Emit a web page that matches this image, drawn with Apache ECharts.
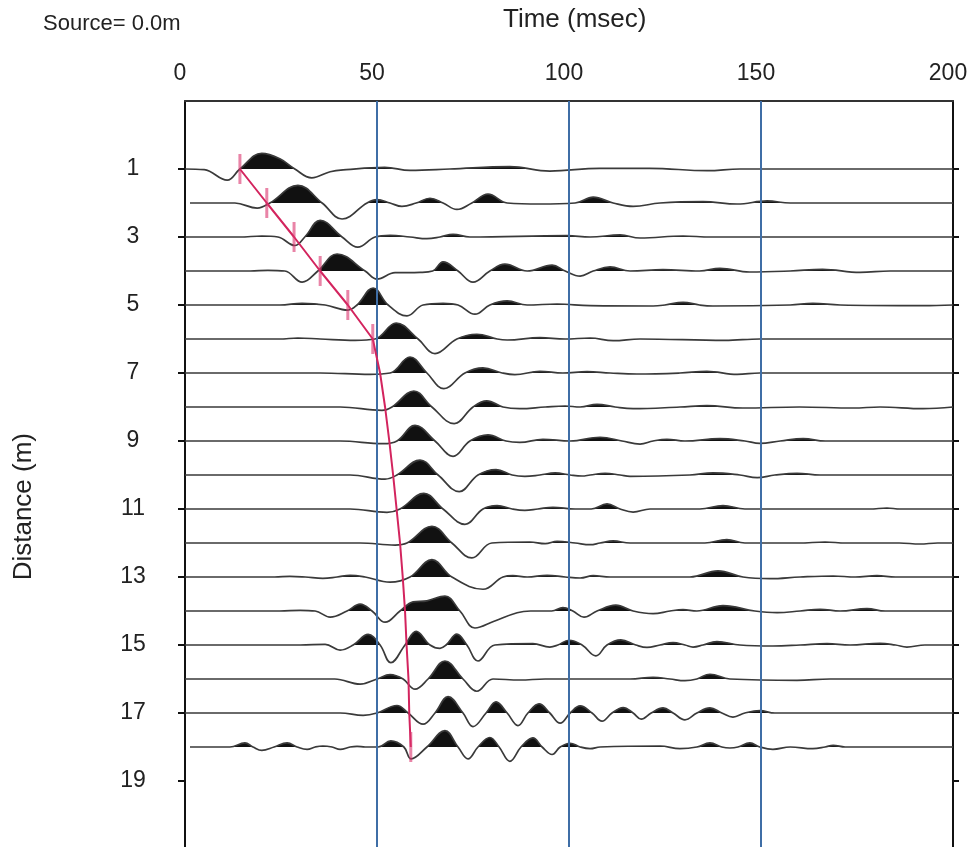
<!DOCTYPE html>
<html>
<head>
<meta charset="utf-8">
<script src="https://cdn.jsdelivr.net/npm/echarts@6/dist/echarts.min.js"></script>
<style>
  html, body { margin: 0; padding: 0; background: #fff; }
  #main { width: 972px; height: 847px; }
</style>
</head>
<body>
<div id="main"></div>
<script type="text/javascript">
// wiggle traces, knots: [time (ms), amplitude in trace spacings, + = filled lobe]
var tr1 = [[0,0],[5,-0.02],[11,-0.33],[14.3,0],[20,0.46],[24.7,0.3],[28.6,0],[33,-0.26],[37.8,-0.08],[42,-0.02],[52,0.05],[58.6,-0.04],[69,0],[84.6,0.07],[95,-0.06],[108,0.02],[121,0.02],[136,-0.05],[144.5,0],[200,0]];
var tr2 = [[1.3,0],[13,0],[18.8,-0.15],[22.1,0],[29.4,0.52],[35.7,0],[40.9,-0.47],[47.4,0],[50,0.1],[53.4,0],[56.5,-0.1],[60.2,0],[63.8,0.14],[67.2,0],[70.8,-0.19],[74.7,0],[78.9,0.26],[83.9,0],[92.4,-0.03],[101.6,0],[106.3,0.17],[111.5,0],[116.7,-0.1],[123.7,0],[134.9,0.04],[143.8,-0.03],[151.6,0.06],[157.6,0],[200,0]];
var tr3 = [[0,0],[14.3,0],[20,0.03],[24.2,0],[28.6,-0.25],[31.2,0],[35.2,0.49],[40.9,0],[45,-0.3],[49.5,0],[53.4,0.05],[58.6,0],[63,-0.05],[66.4,0],[69.8,0.08],[74.2,0],[99.5,0.04],[105.5,0],[113.3,0.06],[118.5,-0.03],[129.7,0.03],[136.7,0],[200,0]];
var tr4 = [[0,0],[17,0],[21.6,0.02],[26,0],[30.5,-0.33],[34.6,0],[39.6,0.5],[46.9,0],[50,-0.24],[54.7,-0.05],[61.2,-0.04],[64.5,0],[67.2,0.27],[71.1,0],[75,-0.33],[79.4,0],[83.3,0.2],[89.1,0],[95.6,0.17],[99,0],[102.9,-0.15],[106.3,0],[110.7,0.12],[115.9,0],[124.5,0.04],[134,0],[139.3,0.08],[147,-0.03],[157.6,0],[166,0.05],[175.8,-0.04],[183.6,0],[200,0]];
var tr5 = [[0,0],[24.7,0],[30.5,0.05],[36.5,0],[42.4,-0.15],[44.8,0],[49,0.5],[52.9,0],[57.8,-0.32],[62,0],[67.2,0.05],[71.1,0],[75.5,-0.27],[79.4,0],[83.9,0.12],[89.1,0],[96.9,0.03],[105.5,-0.02],[121.9,-0.03],[125,0],[129.7,0.08],[134,0],[137.5,-0.03],[157.6,0],[163.5,0.05],[170.6,0],[192.2,-0.02],[200,0]];
var tr6 = [[0,0],[24.7,0],[29.4,0.03],[35.2,0],[44.3,-0.04],[49.5,0],[55,0.47],[60.7,0],[65.1,-0.43],[70.8,0],[76,0.14],[81.3,0],[83.9,-0.03],[92.4,0.04],[99,0],[105.5,0.03],[111.5,-0.05],[118.5,0],[140.6,-0.04],[149.7,0],[200,0]];
var tr7 = [[0,0],[35.2,0],[48.2,-0.04],[53.4,0],[58.6,0.47],[63,0],[67.4,-0.46],[72.9,0],[77.6,0.15],[82.6,0],[85.9,-0.05],[92.4,0.05],[98.4,0],[104.7,0.04],[110.7,0],[117.7,-0.03],[128.9,0],[135.9,0.05],[143.8,-0.04],[149.7,0],[200,0]];
var tr8 = [[0,0],[40.4,0],[51.3,-0.1],[53.9,0],[59.6,0.47],[64.3,0],[70.1,-0.49],[75,0],[78.6,0.18],[82.8,0],[87.2,-0.05],[93.8,0],[99,0.03],[102.9,0],[107.3,0.08],[112,0],[116.7,-0.05],[128.9,0],[135.9,0.04],[145.3,-0.03],[160,0],[174,-0.03],[181,0],[192.2,-0.05],[200,0]];
var tr9 = [[0,0],[40.4,0],[51.6,-0.08],[55.2,0],[59.9,0.46],[65.1,0],[69.8,-0.45],[74.2,0],[78.9,0.18],[83.6,0],[87.2,-0.04],[93.2,0.05],[100.3,0],[108.1,0.11],[113.8,0],[118.5,-0.09],[121.9,0],[125.5,0.05],[130.2,0],[139.3,0.07],[145.8,0],[149.7,-0.07],[155,0],[161,0.07],[166.7,0],[200,0]];
var tr10 = [[0,0],[43,0],[52.1,-0.12],[55.2,0],[61.2,0.44],[65.9,0],[71.4,-0.49],[76.3,0],[81,0.16],[85.2,0],[88.5,-0.04],[92.4,0],[96.4,0.06],[100.3,0],[103.4,-0.03],[105.5,0],[109.4,0.05],[113.3,0],[115.9,-0.04],[131.5,0],[137.5,0.06],[144.5,0],[149,-0.08],[153.6,0],[159.4,0.05],[165.4,0],[200,0]];
var tr11 = [[0,0],[43,0],[52.6,-0.1],[56,0],[62.2,0.46],[67.2,0],[72.9,-0.45],[77.6,0],[81.3,0.1],[85.2,0],[88.5,-0.04],[91.9,0],[95.8,0.05],[101.6,0],[105.8,0],[109.9,0.15],[113.3,0],[116.7,-0.09],[121.1,0],[134.1,0],[140.1,0.1],[145.8,0],[178.4,0],[182.8,0.03],[186.2,0],[200,0]];
var tr12 = [[0,0],[45.6,0],[54.7,-0.06],[57.8,0],[64.3,0.49],[69.5,0],[74.7,-0.44],[79.9,0],[89.8,0.03],[93.8,-0.02],[96.9,0.05],[101.6,0],[105.5,-0.05],[108.1,0],[111.5,0.06],[115.9,0],[135.4,0],[141.1,0.1],[145.8,0],[160,0],[166.7,0.03],[172,0],[186,0],[191.4,-0.03],[196,0],[200,0]];
var tr13 = [[0,0],[23.4,0],[27.3,0.02],[31.3,0],[35.9,-0.04],[39.6,0],[43,0.05],[46.9,0],[53.4,-0.15],[58.6,0],[64.3,0.51],[69.5,0],[77.6,-0.36],[82.8,0],[85.4,0.04],[89.1,0],[94.3,0.05],[99,0],[102.9,-0.03],[106.3,0.04],[110.7,0],[131.5,0],[138.8,0.18],[145.3,0],[152.3,-0.05],[160.2,0],[168.8,0.03],[174.5,0],[180.2,0.04],[185,0],[200,0]];
var tr14 = [[0,0],[24.7,0],[30,0.02],[33.9,0],[37.8,-0.18],[42.2,0],[45.6,0.2],[48.7,0],[52.1,-0.33],[56,0],[59.4,0.27],[63,0.3],[67.7,0.44],[71.6,0],[75.5,-0.5],[80.5,-0.3],[86.5,-0.05],[90,0],[95.5,0],[98.4,0.1],[101,0],[103.9,-0.18],[107.3,0],[112.2,0.17],[116.7,0],[121.9,-0.08],[126.3,0],[129.7,0.04],[133.3,0],[140.1,0.16],[148.4,0],[154.2,-0.05],[160.2,0],[165.4,0.05],[170.6,0],[177.6,0.07],[182.3,0],[200,0]];
var tr15 = [[0,0],[30,0],[36.5,0.02],[40.4,-0.15],[43.8,0],[47.7,0.31],[50.8,0],[53.6,-0.52],[57.3,0],[60.2,0.4],[63.8,0],[66.4,-0.1],[68,0],[70.8,0.32],[73.4,0],[76.3,-0.47],[80.7,0],[90.6,0.04],[95,-0.06],[97.1,0],[100,0.14],[103.4,0],[107,-0.32],[109.9,0],[113.5,0.15],[117.4,0],[120.3,-0.07],[123.7,0],[127.1,0.07],[130.2,0],[132.3,-0.06],[134.9,0],[138.5,0.1],[144.5,0],[153.1,-0.03],[160.2,0],[167.2,0.04],[173.2,0],[181,0.05],[185,0],[188,-0.06],[192.7,0],[200,0]];
var tr16 = [[0,0],[39,0],[45.6,-0.15],[50,0],[53.4,0.13],[56.8,0],[59.9,-0.3],[63.3,0],[67.7,0.53],[72.4,0],[76,-0.36],[80.2,0],[87.2,-0.03],[93.8,0],[115.9,0],[121.9,0.05],[126.3,0],[130.2,-0.05],[133.3,0],[136.7,0.14],[141.9,0],[159.4,-0.04],[168,0],[200,0]];
var tr17 = [[0,0],[40.4,0],[46.4,-0.07],[50,0],[55.2,0.22],[58.1,0],[62,-0.33],[65.1,0],[68.5,0.48],[72.4,0],[75,-0.4],[78.4,0],[81,0.33],[83.9,0],[86.7,-0.37],[89.3,0],[92.2,0.27],[95,0],[97.7,-0.3],[100.3,0],[102.9,0.21],[106,0],[108.6,-0.24],[111.2,0],[114.1,0.16],[116.7,0],[118.8,-0.18],[121.4,0],[124.5,0.15],[127.1,0],[130.2,-0.2],[133.3,0],[136.7,0.15],[139.8,0],[142.7,-0.12],[145.8,0],[149.7,0.07],[153.6,0],[200,0]];
var tr18 = [[1.3,0],[11.7,0],[15.6,0.12],[17.7,0],[20,-0.1],[23.2,0],[26.6,0.12],[29.2,0],[31.8,-0.07],[33.9,0],[35.9,0.03],[38.3,0],[40.4,-0.07],[43,0],[44.8,0.02],[46.9,0],[50.3,0],[53.6,0.18],[57,0],[58.9,-0.35],[63,0],[67.7,0.48],[71.1,0],[73.7,-0.35],[76.3,0],[79.4,0.28],[81.8,0],[84.6,-0.42],[87.5,0],[90.6,0.27],[93,0],[95.6,-0.22],[97.7,0],[100.3,0.11],[102.9,0],[105.5,-0.05],[108.1,0],[123.7,0.03],[128.9,-0.05],[133.3,0],[136.7,0.12],[139.8,0],[141.9,-0.03],[144,0],[147.1,0.12],[149.7,0],[153.1,-0.07],[157.6,0],[163.5,-0.05],[166.7,0],[168.8,0.05],[171.9,0],[200,0]];
var traces = [tr1, tr2, tr3, tr4, tr5, tr6, tr7, tr8, tr9, tr10, tr11, tr12, tr13, tr14, tr15, tr16, tr17, tr18];

// first-break picks (red)
var pickTimes = [14.3, 21.3, 28.4, 35.2, 42.4, 48.9, 50.8, 52.1, 53.2, 54.2, 55.1, 56.0, 56.7, 57.3, 57.7, 58.2, 58.4, 58.8];
var pickDist = [1, 2, 3, 4, 5, 6, 7, 8, 9, 10, 11, 12, 13, 14, 15, 16, 17, 18];
var tickedPicks = [1, 2, 3, 4, 5, 6, 18];

var timeTicks = [0, 50, 100, 150, 200];
var guideTimes = [50, 100, 150];
var distTicks = [1, 3, 5, 7, 9, 11, 13, 15, 17, 19];

var FONT = 'Liberation Sans';
var myChart = echarts.init(document.getElementById('main'));

var series = [];
var visualMaps = [];
traces.forEach(function (knots, i) {
    var d = i + 1;
    var pts = knots.map(function (k) { return [k[0], d - k[1]]; });
    // filled positive lobes: area to the trace baseline, coloured only above it
    visualMaps.push({
        type: 'piecewise', show: false, dimension: 1, seriesIndex: series.length,
        pieces: [{ gt: d - 5, lt: d, color: '#111' }, { gte: d, lt: d + 5, color: 'rgba(255,255,255,0)' }],
        outOfRange: { color: 'rgba(255,255,255,0)' }
    });
    series.push({
        type: 'line', data: pts, smooth: 0.4, symbol: 'none', silent: true, z: 2,
        lineStyle: { width: 0 },
        areaStyle: { origin: d, opacity: 1 }
    });
    series.push({
        type: 'line', data: pts, smooth: 0.4, symbol: 'none', silent: true, z: 3,
        lineStyle: { color: '#3a3a3a', width: 1.7 }
    });
});

// blue time guides
series.push({
    type: 'line', silent: true, z: 5, symbol: 'none',
    data: [[0, -1]], lineStyle: { width: 0 },
    markLine: {
        silent: true, symbol: 'none', label: { show: false },
        lineStyle: { color: '#3f6ea6', width: 2, type: 'solid' },
        data: guideTimes.map(function (t) { return { xAxis: t }; })
    }
});

// pick line
series.push({
    type: 'line', silent: true, z: 10, symbol: 'none',
    data: pickTimes.map(function (t, i) { return [t, pickDist[i]]; }),
    lineStyle: { color: '#d3245e', width: 2 }
});
series.push({
    type: 'scatter', silent: true, z: 10, symbol: 'rect', symbolSize: [3, 30],
    itemStyle: { color: 'rgba(218,50,108,0.75)' },
    data: tickedPicks.map(function (d) { return [pickTimes[d - 1], d]; })
});

var option = {
    animation: false,
    title: {
        text: 'Source= 0.0m', left: 38, top: 8,
        textStyle: { fontFamily: FONT, fontSize: 22, fontWeight: 'normal', color: '#222' }
    },
    graphic: [{
        type: 'text', left: 503, top: 7,
        style: { text: 'Time (msec)', fontFamily: FONT, fontSize: 26, fill: '#222' }
    }, {
        type: 'text', left: 11, top: 433, rotation: Math.PI / 2, originX: 0, originY: 0,
        style: { text: 'Distance (m)', fontFamily: FONT, fontSize: 26, fill: '#222' }
    }],
    grid: { left: 185, top: 101, width: 768, height: 748, outerBoundsMode: 'none' },
    visualMap: visualMaps,
    xAxis: {
        type: 'value', position: 'top', min: 0, max: 200, interval: 50,
        axisLine: { show: true, onZero: false, lineStyle: { color: '#333', width: 2 } },
        axisTick: { show: false },
        axisLabel: { fontFamily: FONT, fontSize: 23, color: '#222', margin: 16, padding: [0, 10, 0, 0] },
        splitLine: { show: false }
    },
    yAxis: [{
        type: 'value', inverse: true, min: -1, max: 21, interval: 2,
        axisLine: { show: true, onZero: false, lineStyle: { color: '#111', width: 2 } },
        axisTick: { show: true, customValues: distTicks, length: 7, lineStyle: { color: '#111', width: 2 } },
        axisLabel: { customValues: distTicks, align: 'center', margin: 52, fontFamily: FONT, fontSize: 23, color: '#222' },
        splitLine: { show: false }
    }, {
        type: 'value', inverse: true, min: -1, max: 21, interval: 2, position: 'right',
        axisLine: { show: true, onZero: false, lineStyle: { color: '#111', width: 2 } },
        axisTick: { show: true, customValues: distTicks, length: 6, lineStyle: { color: '#111', width: 2 } },
        axisLabel: { show: false },
        splitLine: { show: false }
    }],
    series: series
};
myChart.setOption(option);
</script>
</body>
</html>
